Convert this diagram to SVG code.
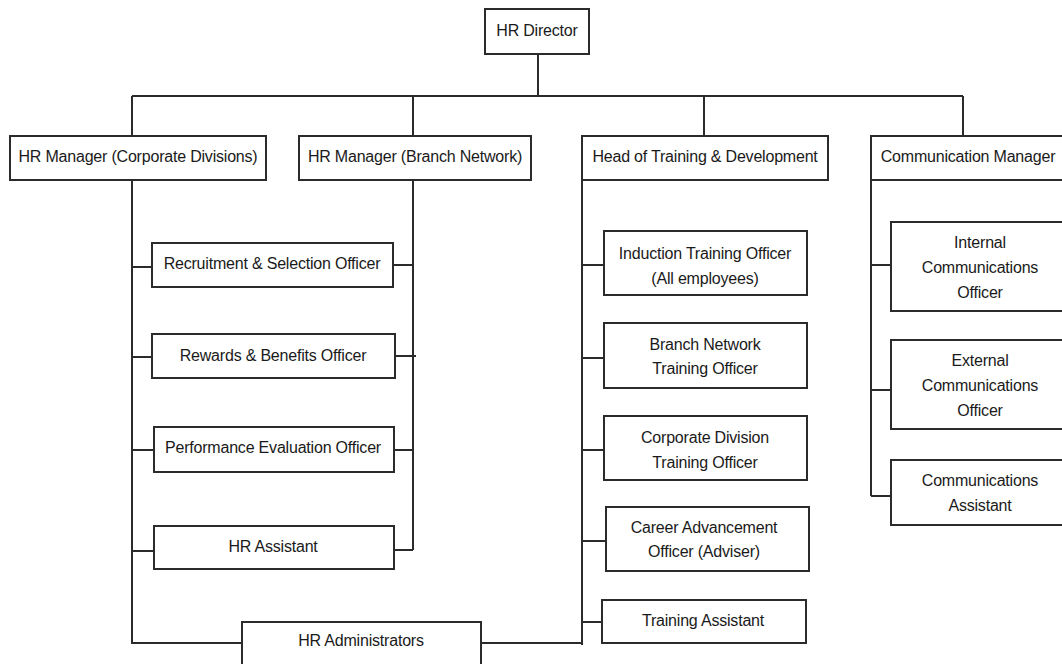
<svg xmlns="http://www.w3.org/2000/svg" width="1062" height="664" viewBox="0 0 1062 664">
  <style>
    .box { fill: #ffffff; stroke: #2b2b2b; stroke-width: 2; }
    .wire { fill: none; stroke: #2b2b2b; stroke-width: 2; }
    text { font-family: "Liberation Sans", Arial, sans-serif; font-size: 16px; fill: #1a1a1a; text-anchor: middle; dominant-baseline: central; letter-spacing: -0.2px; }
  </style>
  <rect width="1062" height="664" fill="#ffffff"/>

  <!-- reporting lines -->
  <g id="connectors" class="wire">
    <path d="M538,54 V96"/>
    <path d="M132,96 H963"/>
    <path d="M132,96 V136 M413,96 V136 M704,96 V136 M963,96 V136"/>
    <!-- corporate divisions spine -->
    <path d="M132,180 V643 H242"/>
    <path d="M132,267 H152 M132,357 H152 M132,450 H154 M132,551 H154"/>
    <!-- branch network spine -->
    <path d="M413,180 V550"/>
    <path d="M393,265 H413 M395,356 H416 M394,450 H413 M394,550 H413"/>
    <!-- training spine -->
    <path d="M582,180 V645"/>
    <path d="M481,643 H582"/>
    <path d="M582,265 H604 M582,358 H604 M582,450 H604 M582,541 H606 M582,622 H602"/>
    <!-- communication spine -->
    <path d="M871,180 V496"/>
    <path d="M871,265 H891 M871,390 H891 M871,496 H891"/>
  </g>

  <g id="hr-director">
    <rect class="box" x="485" y="9" width="104" height="45"/>
    <text x="537" y="30">HR Director</text>
  </g>

  <g id="hr-manager-corporate">
    <rect class="box" x="10" y="136" width="256" height="44"/>
    <text x="138" y="156">HR Manager (Corporate Divisions)</text>
  </g>
  <g id="hr-manager-branch">
    <rect class="box" x="299" y="136" width="232" height="44"/>
    <text x="415" y="156">HR Manager (Branch Network)</text>
  </g>
  <g id="head-training">
    <rect class="box" x="582" y="136" width="246" height="44"/>
    <text x="705" y="156">Head of Training &amp; Development</text>
  </g>
  <g id="communication-manager">
    <rect class="box" x="871" y="136" width="196" height="44"/>
    <text x="968" y="156">Communication Manager</text>
  </g>

  <g id="recruitment-officer">
    <rect class="box" x="152" y="243" width="241" height="44"/>
    <text x="272" y="263">Recruitment &amp; Selection Officer</text>
  </g>
  <g id="rewards-officer">
    <rect class="box" x="152" y="334" width="243" height="44"/>
    <text x="273" y="355">Rewards &amp; Benefits Officer</text>
  </g>
  <g id="performance-officer">
    <rect class="box" x="154" y="427" width="240" height="45"/>
    <text x="273" y="447">Performance Evaluation Officer</text>
  </g>
  <g id="hr-assistant">
    <rect class="box" x="154" y="526" width="240" height="43"/>
    <text x="273" y="546">HR Assistant</text>
  </g>
  <g id="hr-administrators">
    <rect class="box" x="242" y="622" width="239" height="50"/>
    <text x="361" y="640">HR Administrators</text>
  </g>

  <g id="induction-officer">
    <rect class="box" x="604" y="231" width="203" height="64"/>
    <text x="705" y="253">Induction Training Officer</text>
    <text x="705" y="278">(All employees)</text>
  </g>
  <g id="branch-training-officer">
    <rect class="box" x="604" y="323" width="203" height="65"/>
    <text x="705" y="344">Branch Network</text>
    <text x="705" y="368">Training Officer</text>
  </g>
  <g id="corporate-training-officer">
    <rect class="box" x="604" y="416" width="203" height="64"/>
    <text x="705" y="437">Corporate Division</text>
    <text x="705" y="462">Training Officer</text>
  </g>
  <g id="career-officer">
    <rect class="box" x="606" y="507" width="203" height="64"/>
    <text x="704" y="527">Career Advancement</text>
    <text x="704" y="551">Officer (Adviser)</text>
  </g>
  <g id="training-assistant">
    <rect class="box" x="602" y="600" width="204" height="43"/>
    <text x="703" y="620">Training Assistant</text>
  </g>

  <g id="internal-comms-officer">
    <rect class="box" x="891" y="222" width="176" height="89"/>
    <text x="980" y="242">Internal</text>
    <text x="980" y="267">Communications</text>
    <text x="980" y="292">Officer</text>
  </g>
  <g id="external-comms-officer">
    <rect class="box" x="891" y="340" width="176" height="89"/>
    <text x="980" y="360">External</text>
    <text x="980" y="385">Communications</text>
    <text x="980" y="410">Officer</text>
  </g>
  <g id="comms-assistant">
    <rect class="box" x="891" y="460" width="176" height="65"/>
    <text x="980" y="480">Communications</text>
    <text x="980" y="505">Assistant</text>
  </g>
</svg>
